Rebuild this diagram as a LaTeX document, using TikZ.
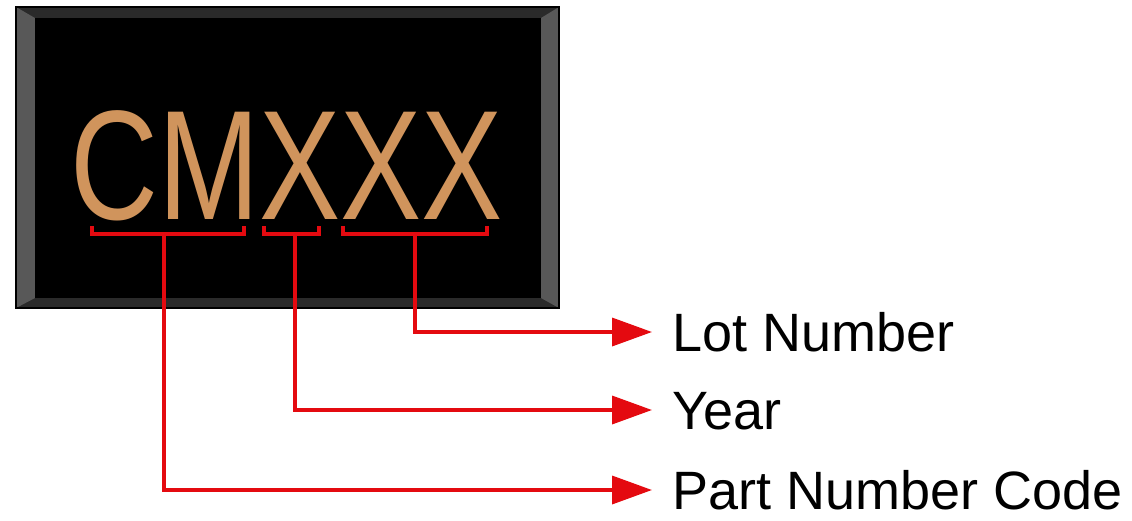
\documentclass[tikz,border=0pt]{standalone}
\usepackage{fontspec}
\setmainfont{Liberation Sans}
\usetikzlibrary{arrows.meta}
\definecolor{tan}{RGB}{208,148,92}
\definecolor{lnred}{RGB}{228,10,16}
\definecolor{bevside}{RGB}{88,88,88}
\definecolor{bevtop}{RGB}{42,42,42}
\tikzset{
  redline/.style={draw=lnred, line width=3.6pt},
  arrowline/.style={redline, -{Triangle[length=40pt,width=28pt]}, shorten >=20pt},
  lbl/.style={inner sep=0pt, anchor=west, text height=38pt, text depth=0pt, font=\fontsize{54pt}{60pt}\selectfont},
}
\begin{document}
\begin{tikzpicture}[x=1pt,y=-1pt]
\useasboundingbox (0,0) rectangle (1132,520);
% box
\fill[bevtop, draw=black, line width=1.2pt] (16,7) rectangle (559,308);
\fill[bevside] (16,7) -- (35,18) -- (35,298) -- (16,308) -- cycle;
\fill[bevside] (559,7) -- (541,18) -- (541,298) -- (559,308) -- cycle;
\fill[black] (35,18) rectangle (541,298);
\draw[black, line width=1.2pt] (16,7) rectangle (559,308);
% text
\node[inner sep=0pt, anchor=base west, text=tan, font=\fontsize{156pt}{160pt}\selectfont] (code) at (70,219) {\scalebox{0.78}[1]{CMXXX}};
% brackets
\draw[redline, line join=miter] (92,226) -- (92,234) -- (244,234) -- (244,226);
\draw[redline, line join=miter] (264,226) -- (264,234) -- (319,234) -- (319,226);
\draw[redline, line join=miter] (343,226) -- (343,234) -- (487,234) -- (487,226);
\coordinate (s1) at (164,234);
\coordinate (s2) at (295,234);
\coordinate (s3) at (415,234);
% labels
\node[lbl] (lot) at (672,332) {Lot Number};
\node[lbl] (year) at (672,410) {Year};
\node[lbl] (part) at (672,490) {Part Number Code};
% connectors
\draw[arrowline] (s3) |- (lot.west);
\draw[arrowline] (s2) |- (year.west);
\draw[arrowline] (s1) |- (part.west);
\end{tikzpicture}
\end{document}
